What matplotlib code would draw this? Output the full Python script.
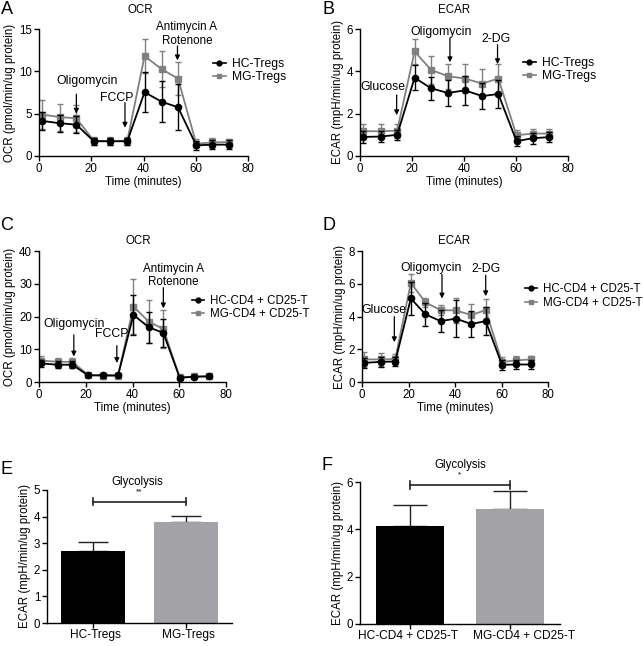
import matplotlib
matplotlib.use('Agg')
import matplotlib.pyplot as plt
from matplotlib.lines import Line2D
import matplotlib.transforms as mtransforms

plt.rcParams['font.family'] = ['Liberation Sans', 'DejaVu Sans']

W, H = 643, 646

# ---------------- data ----------------
time_min = [1, 8, 14.3, 21, 27.3, 33.8, 40.4, 47, 53.2, 60.2, 66.4, 72.7]

# Panel A: OCR Tregs
ocr_hc_tregs = [4.15, 3.87, 3.7, 1.74, 1.74, 1.74, 7.54, 6.4, 5.76, 1.26, 1.34, 1.34]
ocr_hc_tregs_err = [1.1, 1.0, 1.0, 0.4, 0.4, 0.4, 2.4, 2.4, 2.7, 0.5, 0.5, 0.5]
ocr_mg_tregs = [4.9, 4.6, 4.45, 1.8, 1.75, 1.8, 11.8, 10.25, 9.15, 1.45, 1.6, 1.65]
ocr_mg_tregs_err = [1.7, 1.6, 1.6, 0.5, 0.5, 0.5, 2.0, 2.1, 2.0, 0.5, 0.5, 0.4]

# Panel B: ECAR Tregs
ecar_hc_tregs = [0.9, 0.92, 1.0, 3.7, 3.2, 2.98, 3.1, 2.83, 2.93, 0.7, 0.84, 0.89]
ecar_hc_tregs_err = [0.28, 0.25, 0.25, 0.6, 0.55, 0.6, 0.7, 0.6, 0.65, 0.25, 0.25, 0.25]
ecar_mg_tregs = [1.17, 1.17, 1.2, 4.94, 4.07, 3.77, 3.66, 3.42, 3.66, 0.98, 1.06, 1.06]
ecar_mg_tregs_err = [0.33, 0.33, 0.33, 0.6, 0.65, 0.6, 0.67, 0.7, 0.67, 0.25, 0.22, 0.22]

# Panel C: OCR CD4+CD25-T
ocr_hc_cd4 = [5.67, 5.27, 5.27, 2.0, 2.1, 2.0, 20.5, 16.7, 15.0, 1.3, 1.6, 1.7]
ocr_hc_cd4_err = [1.0, 1.0, 1.0, 0.6, 0.8, 0.6, 6.0, 4.7, 4.2, 0.6, 0.5, 0.5]
ocr_mg_cd4 = [6.5, 6.2, 6.1, 2.2, 1.8, 1.9, 23.0, 18.4, 16.2, 1.4, 1.7, 1.8]
ocr_mg_cd4_err = [1.4, 1.2, 1.2, 0.6, 0.8, 0.6, 8.3, 6.6, 5.7, 0.6, 0.6, 0.6]

# Panel D: ECAR CD4+CD25-T
ecar_hc_cd4 = [1.17, 1.23, 1.25, 5.1, 4.13, 3.72, 3.87, 3.54, 3.72, 1.05, 1.07, 1.07]
ecar_hc_cd4_err = [0.3, 0.3, 0.25, 1.0, 0.7, 0.68, 1.14, 0.8, 0.85, 0.3, 0.3, 0.3]
ecar_mg_cd4 = [1.38, 1.38, 1.4, 6.05, 4.86, 4.39, 4.37, 4.09, 4.39, 1.23, 1.32, 1.38]
ecar_mg_cd4_err = [0.45, 0.4, 0.3, 0.53, 0.25, 0.3, 0.75, 0.67, 0.7, 0.3, 0.25, 0.2]

# Panels E/F: Glycolysis bars
groups_e = ['HC-Tregs', 'MG-Tregs']
glyco_e = [2.71, 3.78]
glyco_e_err = [0.34, 0.24]
groups_f = ['HC-CD4 + CD25-T', 'MG-CD4 + CD25-T']
glyco_f = [4.13, 4.85]
glyco_f_err = [0.9, 0.78]

HC_COLOR = '#000000'
MG_COLOR = '#808080'
BAR_GRAY = '#a3a3a7'
FS_TICK = 8.3
FS_ANN = 8.8

fig = plt.figure(figsize=(W / 100, H / 100), dpi=100)


def px_axes(l, t, r, b):
    return fig.add_axes([l / W, 1 - b / H, (r - l) / W, (b - t) / H])


def style(ax):
    for s in ['top', 'right']:
        ax.spines[s].set_visible(False)
    for s in ['left', 'bottom']:
        ax.spines[s].set_linewidth(1.0)
    ax.tick_params(direction='out', length=3.5, width=1.0, labelsize=FS_TICK, pad=1.5)


def ftext(x, y, s, **kw):
    fig.text(x / W, 1 - y / H, s, ha='center', va='center', **kw)


def arrow(ax, x, y0, y1):
    ax.annotate('', xy=(x, y1), xytext=(x, y0),
                arrowprops=dict(arrowstyle='-|>', color='black', lw=0.9,
                                mutation_scale=7, shrinkA=0, shrinkB=0),
                annotation_clip=False)


def line_panel(ax, hc, hce, mg, mge, ylim, yticks, ylabel):
    ax.errorbar(time_min, hc, yerr=hce, color=HC_COLOR, marker='o', ms=4.5,
                lw=1.3, capsize=2.5, elinewidth=1.0, capthick=1.0, zorder=3)
    ax.errorbar(time_min, mg, yerr=mge, color=MG_COLOR, marker='s', ms=4.3,
                lw=1.3, capsize=2.5, elinewidth=1.0, capthick=1.0, zorder=2)
    ax.set_xlim(0, 80)
    ax.set_ylim(*ylim)
    ax.set_xticks([0, 20, 40, 60, 80])
    ax.set_yticks(yticks)
    ax.set_xlabel('Time (minutes)', fontsize=FS_TICK, labelpad=1)
    ax.set_ylabel(ylabel, fontsize=FS_TICK, labelpad=2)
    style(ax)


OCR_LABEL = 'OCR (pmol/min/ug protein)'
ECAR_LABEL = 'ECAR (mpH/min/ug protein)'


def add_legend(ax, labels, x_px, y_px, fs):
    handles = [Line2D([], [], color=HC_COLOR, marker='o', ms=3.5, lw=1.2),
               Line2D([], [], color=MG_COLOR, marker='s', ms=3.3, lw=1.2)]
    ax.legend(handles, labels, loc='center left', bbox_to_anchor=(x_px / W, 1 - y_px / H),
              bbox_transform=fig.transFigure, frameon=False, fontsize=fs,
              handlelength=1.05, handletextpad=0.5, labelspacing=0.1, borderpad=0,
              borderaxespad=0)


# ---- A ----
axA = px_axes(39, 29, 248, 156)
line_panel(axA, ocr_hc_tregs, ocr_hc_tregs_err, ocr_mg_tregs, ocr_mg_tregs_err,
           (0, 15), [0, 5, 10, 15], OCR_LABEL)
add_legend(axA, ['HC-Tregs', 'MG-Tregs'], 213, 70.5, 8.7)
axA.text(18.3, 8.9, 'Oligomycin', ha='center', va='center', fontsize=FS_ANN)
arrow(axA, 14.3, 7.3, 5.0)
axA.text(29.8, 6.8, 'FCCP', ha='center', va='center', fontsize=FS_ANN)
arrow(axA, 32.9, 6.3, 3.35)
axA.text(56.6, 15.2, 'Antimycin A', ha='center', va='center', fontsize=8.4)
axA.text(56.6, 13.6, 'Rotenone', ha='center', va='center', fontsize=8.4)
arrow(axA, 53.0, 13.0, 11.3)
ftext(140, 10, 'OCR', fontsize=FS_TICK)
ftext(7, 9, 'A', fontsize=13)

# ---- B ----
axB = px_axes(360, 29, 568, 156)
line_panel(axB, ecar_hc_tregs, ecar_hc_tregs_err, ecar_mg_tregs, ecar_mg_tregs_err,
           (0, 6), [0, 2, 4, 6], ECAR_LABEL)
add_legend(axB, ['HC-Tregs', 'MG-Tregs'], 523, 69.5, 8.7)
axB.text(8.7, 3.25, 'Glucose', ha='center', va='center', fontsize=FS_ANN)
arrow(axB, 14.1, 2.88, 1.93)
axB.text(31.0, 5.86, 'Oligomycin', ha='center', va='center', fontsize=FS_ANN)
arrow(axB, 34.6, 5.57, 4.43)
axB.text(52.4, 5.54, '2-DG', ha='center', va='center', fontsize=FS_ANN)
arrow(axB, 52.9, 5.26, 4.34)
ftext(454, 10, 'ECAR', fontsize=FS_TICK)
ftext(329, 9, 'B', fontsize=13)

# ---- C ----
axC = px_axes(39, 251, 226, 382)
line_panel(axC, ocr_hc_cd4, ocr_hc_cd4_err, ocr_mg_cd4, ocr_mg_cd4_err,
           (0, 40), [0, 10, 20, 30, 40], OCR_LABEL)
add_legend(axC, ['HC-CD4 + CD25-T', 'MG-CD4 + CD25-T'], 192, 307.5, 8.3)
axC.text(14.9, 17.6, 'Oligomycin', ha='center', va='center', fontsize=FS_ANN)
arrow(axC, 14.9, 14.4, 7.8)
axC.text(30.9, 14.6, 'FCCP', ha='center', va='center', fontsize=FS_ANN)
arrow(axC, 33.3, 11.1, 5.8)
axC.text(57.4, 34.6, 'Antimycin A', ha='center', va='center', fontsize=8.4)
axC.text(57.4, 30.6, 'Rotenone', ha='center', va='center', fontsize=8.4)
arrow(axC, 53.2, 28.8, 22.5)
ftext(138, 241, 'OCR', fontsize=FS_TICK)
ftext(7, 225, 'C', fontsize=13)

# ---- D ----
axD = px_axes(362, 251, 548, 382)
line_panel(axD, ecar_hc_cd4, ecar_hc_cd4_err, ecar_mg_cd4, ecar_mg_cd4_err,
           (0, 8), [0, 2, 4, 6, 8], ECAR_LABEL)
add_legend(axD, ['HC-CD4 + CD25-T', 'MG-CD4 + CD25-T'], 525, 296, 8.3)
axD.text(9.3, 4.39, 'Glucose', ha='center', va='center', fontsize=FS_ANN)
arrow(axD, 13.9, 3.99, 2.43)
axD.text(29.8, 6.96, 'Oligomycin', ha='center', va='center', fontsize=FS_ANN)
arrow(axD, 34.4, 6.56, 5.1)
axD.text(53.5, 6.92, '2-DG', ha='center', va='center', fontsize=FS_ANN)
arrow(axD, 53.2, 6.52, 5.24)
ftext(454, 241, 'ECAR', fontsize=FS_TICK)
ftext(329, 225, 'D', fontsize=13)


# ---- E / F bars ----
def bar_panel(ax, groups, vals, errs, width, ylim, yticks, bracket_y, cap_h,
              stars, star_y, capsize, label_offsets_px):
    xs = list(range(len(groups)))
    ax.bar(xs, vals, width=width, color=[HC_COLOR, BAR_GRAY], zorder=2)
    ax.errorbar(xs, vals, yerr=[[0] * len(errs), errs], fmt='none', ecolor='#222222',
                elinewidth=1.0, capsize=capsize, capthick=1.0, zorder=1)
    ax.set_xlim(-0.5, 1.5)
    ax.set_ylim(*ylim)
    ax.set_yticks(yticks)
    ax.set_xticks(xs)
    ax.set_xticklabels([])
    ax.set_ylabel(ECAR_LABEL, fontsize=FS_TICK, labelpad=2)
    style(ax)
    base = mtransforms.blended_transform_factory(ax.transData, ax.transAxes)
    for x, g, off in zip(xs, groups, label_offsets_px):
        tr = base + mtransforms.ScaledTranslation(off / 100, 0, fig.dpi_scale_trans)
        ax.text(x, -0.045, g, transform=tr, ha='center', va='top', fontsize=8.6)
    ax.plot([0, 1], [bracket_y, bracket_y], color='#222222', lw=1.2, clip_on=False)
    for x in (0, 1):
        ax.plot([x, x], [bracket_y - cap_h, bracket_y + cap_h], color='#222222', lw=1.2, clip_on=False)
    ax.text(0.5, star_y, stars, ha='center', va='center', fontsize=6, clip_on=False)


axE = px_axes(47, 490, 232, 623)
bar_panel(axE, groups_e, glyco_e, glyco_e_err, 0.69, (0, 5), [0, 1, 2, 3, 4, 5],
          4.56, 0.13, '**', 4.93, 10.5, [2, 3])
ftext(137, 482, 'Glycolysis', fontsize=FS_TICK)
ftext(7, 469, 'E', fontsize=13)

axF = px_axes(360, 482, 560, 624)
bar_panel(axF, groups_f, glyco_f, glyco_f_err, 0.68, (0, 6), [0, 2, 4, 6],
          5.88, 0.17, '*', 6.3, 12, [-2, 14])
ftext(460, 465, 'Glycolysis', fontsize=FS_TICK)
ftext(327, 466, 'F', fontsize=13)

fig.savefig('out.png', dpi=100)
